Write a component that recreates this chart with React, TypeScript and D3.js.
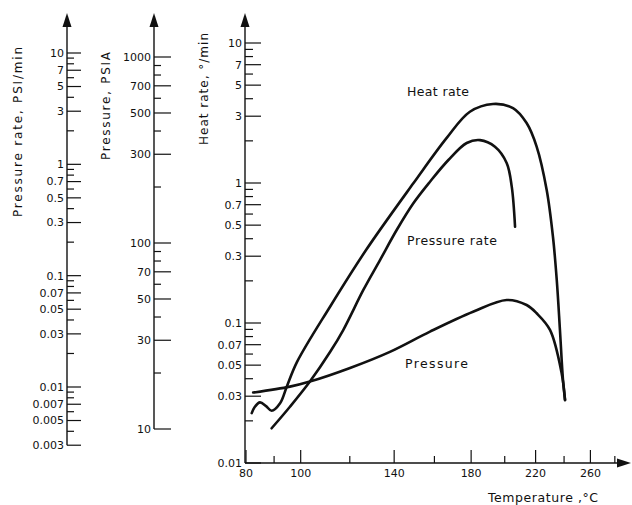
import React from "react";
import * as d3 from "d3";

// ---------- data ----------
const heatTemp = [82.0, 83.1, 84.9, 87.1, 89.1, 92.2, 94.7, 98.6, 111.7, 127.1, 149.3, 166.5, 179.3, 192.8, 205.2, 214.0, 220.7, 227.6, 232.0, 234.7, 237.0, 239.2, 240.7];
const heatRate = [0.0227, 0.0252, 0.0271, 0.0255, 0.0236, 0.0267, 0.0351, 0.0527, 0.1307, 0.332, 0.995, 2.1, 3.23, 3.67, 3.43, 2.68, 1.82, 0.891, 0.413, 0.203, 0.0891, 0.0392, 0.0282];

const prTemp = [89.1, 95.9, 103.6, 111.7, 117.2, 125.9, 133.4, 141.2, 149.3, 157.7, 167.4, 177.5, 185.1, 194.0, 201.2, 204.4, 206.5];
const prRate = [0.00426, 0.00665, 0.0112, 0.0206, 0.0325, 0.0744, 0.138, 0.257, 0.447, 0.698, 1.094, 1.555, 1.65, 1.44, 1.03, 0.63, 0.275];

const pTemp = [82.5, 95.9, 103.6, 120.1, 138.0, 157.7, 181.1, 201.2, 214.0, 220.7, 229.9, 238.2, 240.7];
const pVal = [15.7, 16.9, 18.0, 21.3, 26.0, 33.4, 42.7, 49.4, 46.4, 41.9, 34.1, 20.0, 14.3];

const heatLabels = [10, 7, 5, 3, 1, 0.7, 0.5, 0.3, 0.1, 0.07, 0.05, 0.03, 0.01];
const prLabels = [10, 7, 5, 3, 1, 0.7, 0.5, 0.3, 0.1, 0.07, 0.05, 0.03, 0.01, 0.007, 0.005, 0.003];
const pLabels = [1000, 700, 500, 300, 100, 70, 50, 30, 10];
const tempLabels = [80, 100, 140, 180, 220, 260];
const tempTicks = [80, 90, 100, 120, 140, 160, 180, 200, 220, 240, 260, 280];

// ---------- layout ----------
const W = 632, H = 505;
const FONT = "'DejaVu Sans', sans-serif";
const INK = "#111";

const xAxisY = 463;
const heatAxisX = 245;
const prAxisX = 67;
const pAxisX = 154;
const arrowTop = 13;

// reciprocal absolute temperature scale
const invScale = d3.scaleLinear().domain([1 / 353, 1 / 553]).range([246, 246 + 360000 * (1 / 353 - 1 / 553)]);
const xT = (t: number) => invScale(1 / (t + 273));

const yHeat = d3.scaleLog().domain([0.01, 10]).range([463, 43]);
const yPR = d3.scaleLog().domain([0.01, 10]).range([387, 53]);
const yP = d3.scaleLog().domain([10, 1000]).range([429, 57]);

const near = (a: number, list: number[]) => list.some((b) => Math.abs(a - b) / b < 1e-6);

function LogAxis({ x, scale, lo, hi, labels, longLen, shortLen, bottom }: any) {
  const ticks = d3.scaleLog().domain([lo, hi]).ticks().filter((t) => t >= lo * 0.9999 && t <= hi * 1.0001);
  return (
    <g>
      <line x1={x} x2={x} y1={arrowTop + 12} y2={bottom} stroke={INK} strokeWidth={1.4} />
      <path d={`M${x},${arrowTop} L${x - 4.5},${arrowTop + 14} L${x + 4.5},${arrowTop + 14} Z`} fill={INK} />
      {ticks.map((t: number, i: number) => {
        const y = scale(t);
        const lab = near(t, labels);
        return (
          <g key={i}>
            <line x1={x} x2={x + (lab ? longLen : shortLen)} y1={y} y2={y} stroke={INK} strokeWidth={1.2} />
            {lab && (
              <text x={x - 3} y={y} dy="0.35em" textAnchor="end" fontSize={11} fontFamily={FONT} fill={INK}>
                {String(t)}
              </text>
            )}
          </g>
        );
      })}
    </g>
  );
}

export default function App() {
  const line = d3
    .line<[number, number]>()
    .x((d) => d[0])
    .y((d) => d[1])
    .curve(d3.curveCatmullRom.alpha(0.5));

  const heatPath = line(heatTemp.map((t, i) => [xT(t), yHeat(heatRate[i])]));
  const prPath = line(prTemp.map((t, i) => [xT(t), yPR(prRate[i])]));
  const pPath = line(pTemp.map((t, i) => [xT(t), yP(pVal[i])]));

  const xEnd = 631;

  return (
    <svg
      width={W}
      height={H}
      style={{ position: "absolute", left: 0, top: 0, background: "#fff" }}
      fontFamily={FONT}
    >
      <rect x={0} y={0} width={W} height={H} fill="#fff" />

      {/* left auxiliary axes */}
      <LogAxis x={prAxisX} scale={yPR} lo={0.003} hi={10} labels={prLabels} longLen={14} shortLen={7} bottom={yPR(0.003)} />
      <LogAxis x={pAxisX} scale={yP} lo={10} hi={1000} labels={pLabels} longLen={17} shortLen={7} bottom={yP(10)} />
      <LogAxis x={heatAxisX} scale={yHeat} lo={0.01} hi={10} labels={heatLabels} longLen={16} shortLen={8} bottom={xAxisY} />

      {/* axis titles */}
      <text transform={`translate(22,132) rotate(-90)`} textAnchor="middle" fontSize={12} fill={INK} textLength={170} lengthAdjust="spacing">
        Pressure rate, PSI/min
      </text>
      <text transform={`translate(110,106) rotate(-90)`} textAnchor="middle" fontSize={12} fill={INK} textLength={108} lengthAdjust="spacing">
        Pressure, PSIA
      </text>
      <text transform={`translate(208,89) rotate(-90)`} textAnchor="middle" fontSize={12} fill={INK} textLength={112} lengthAdjust="spacing">
        Heat rate, °/min
      </text>

      {/* x axis */}
      <line x1={heatAxisX} x2={xEnd - 12} y1={xAxisY} y2={xAxisY} stroke={INK} strokeWidth={1.4} />
      <path d={`M${xEnd},${xAxisY} L${xEnd - 14},${xAxisY - 4.5} L${xEnd - 14},${xAxisY + 4.5} Z`} fill={INK} />
      {tempTicks.map((t, i) => {
        const x = xT(t);
        const lab = tempLabels.includes(t);
        return (
          <g key={i}>
            <line x1={x} x2={x} y1={xAxisY} y2={xAxisY - (lab ? 13 : 7)} stroke={INK} strokeWidth={1.2} />
            {lab && (
              <text x={x} y={477} textAnchor="middle" fontSize={11} fill={INK}>
                {t}
              </text>
            )}
          </g>
        );
      })}
      <text x={488} y={502} fontSize={12.5} fill={INK} textLength={110} lengthAdjust="spacing">
        Temperature ,°C
      </text>

      {/* curves */}
      <path d={heatPath || ""} fill="none" stroke={INK} strokeWidth={2.6} strokeLinecap="round" strokeLinejoin="round" />
      <path d={prPath || ""} fill="none" stroke={INK} strokeWidth={2.6} strokeLinecap="round" strokeLinejoin="round" />
      <path d={pPath || ""} fill="none" stroke={INK} strokeWidth={2.6} strokeLinecap="round" strokeLinejoin="round" />

      {/* curve labels */}
      <text x={407} y={96} fontSize={12.5} fill={INK} textLength={62} lengthAdjust="spacing">Heat rate</text>
      <text x={407} y={245} fontSize={12.5} fill={INK} textLength={90} lengthAdjust="spacing">Pressure rate</text>
      <text x={405} y={368} fontSize={12.5} fill={INK} textLength={63} lengthAdjust="spacing">Pressure</text>
    </svg>
  );
}
